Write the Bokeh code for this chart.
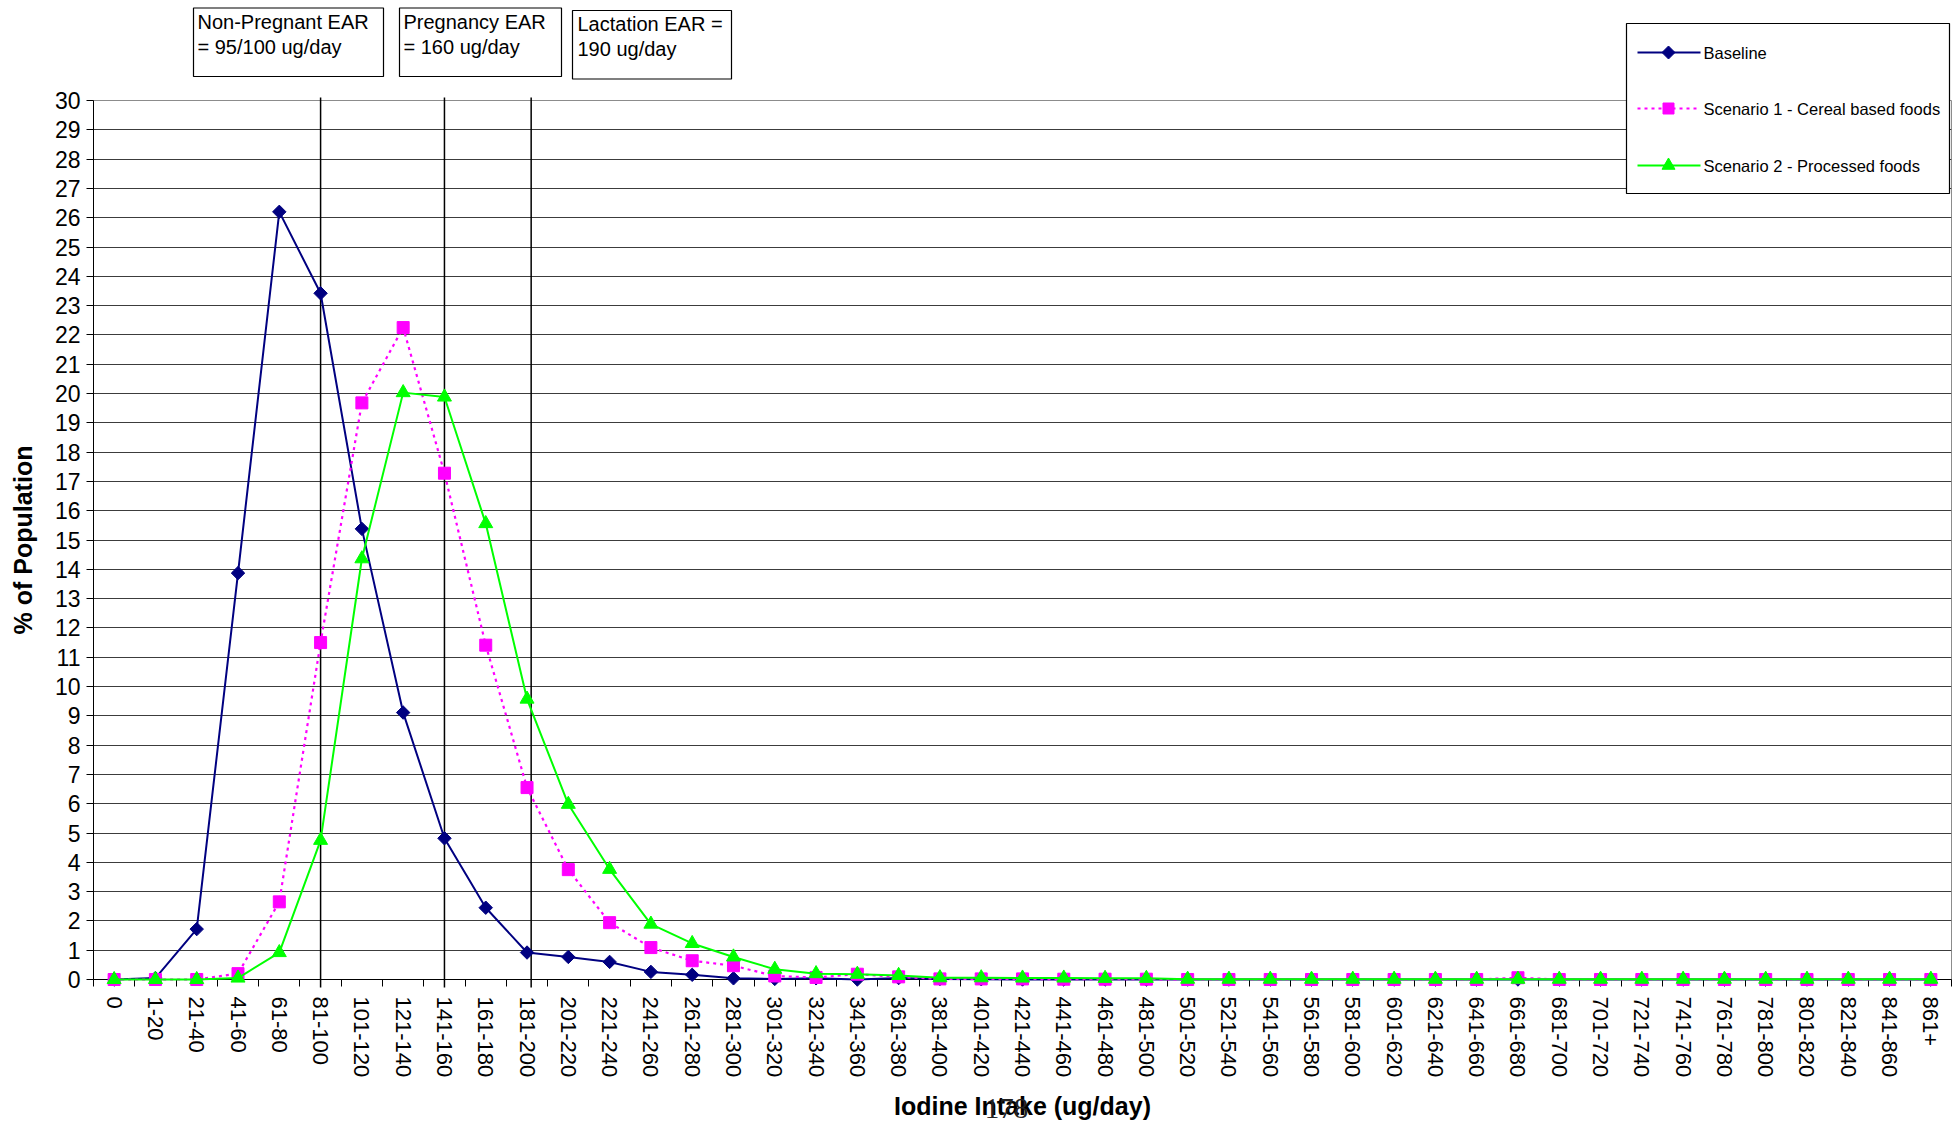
import math
from bokeh.plotting import figure
from bokeh.models import Range1d, FixedTicker
from bokeh.core.properties import value
from bokeh.embed import file_html
from bokeh.resources import INLINE

# ---------------- data ----------------
categories = ["0", "1-20", "21-40", "41-60", "61-80", "81-100", "101-120", "121-140",
              "141-160", "161-180", "181-200", "201-220", "221-240", "241-260", "261-280",
              "281-300", "301-320", "321-340", "341-360", "361-380", "381-400", "401-420",
              "421-440", "441-460", "461-480", "481-500", "501-520", "521-540", "541-560",
              "561-580", "581-600", "601-620", "621-640", "641-660", "661-680", "681-700",
              "701-720", "721-740", "741-760", "761-780", "781-800", "801-820", "821-840",
              "841-860", "861+"]

baseline = [0.0, 0.05, 1.72, 13.87, 26.2, 23.42, 15.38, 9.11, 4.82, 2.45, 0.92, 0.77, 0.60,
            0.26, 0.16, 0.04, 0.02, 0.04, 0.0, 0.05, 0.02, 0.01, 0.0, 0.0, 0.0, 0.0, 0.0,
            0.0, 0.0, 0.0, 0.0, 0.0, 0.0, 0.0, 0.0, 0.0, 0.0, 0.0, 0.0, 0.0, 0.0, 0.0, 0.0,
            0.0, 0.0]

scenario1 = [0.0, 0.0, 0.0, 0.2, 2.65, 11.5, 19.68, 22.25, 17.28, 11.41, 6.55, 3.75, 1.94,
             1.09, 0.64, 0.47, 0.12, 0.07, 0.18, 0.09, 0.02, 0.02, 0.02, 0.01, 0.01, 0.01,
             0.0, 0.0, 0.0, 0.0, 0.0, 0.0, 0.0, 0.0, 0.06, 0.0, 0.0, 0.0, 0.0, 0.0, 0.0, 0.0,
             0.0, 0.0, 0.0]

scenario2 = [0.0, 0.0, 0.0, 0.05, 0.92, 4.75, 14.36, 20.03, 19.88, 15.56, 9.57, 5.98, 3.76,
             1.89, 1.23, 0.77, 0.35, 0.2, 0.18, 0.14, 0.06, 0.06, 0.05, 0.05, 0.04, 0.04,
             0.01, 0.01, 0.01, 0.01, 0.01, 0.01, 0.01, 0.01, 0.01, 0.01, 0.01, 0.01, 0.01,
             0.01, 0.01, 0.01, 0.01, 0.01, 0.01]

series_names = ["Baseline", "Scenario 1 - Cereal based foods", "Scenario 2 - Processed foods"]

y_ticks = list(range(0, 31))

ear_positions = [5, 8, 10.1]
ear_texts = [["Non-Pregnant EAR", "= 95/100 ug/day"],
             ["Pregnancy EAR", "= 160 ug/day"],
             ["Lactation EAR =", "190 ug/day"]]
page_number = "178"

# ---------------- layout (pixels) ----------------
W, H = 1955, 1123
FL, FT, FR, FB = 93, 100, 1951, 979
NCAT = len(categories)
FONT = "Liberation Sans"


def xd(px):
    return -0.5 + (px - FL) / (FR - FL) * NCAT


def yd(py):
    return (FB - py) / (FB - FT) * 30.0


p = figure(width=W, height=H, x_range=Range1d(-0.5, NCAT - 0.5), y_range=Range1d(0, 30),
           output_backend="svg", toolbar_location=None,
           min_border_left=FL, min_border_right=W - FR, min_border_top=FT,
           min_border_bottom=H - FB)
p.background_fill_color = "white"
p.border_fill_color = "white"
p.outline_line_color = "#8c8c8c"
p.outline_line_width = 1

# grid
p.xgrid.visible = False
p.ygrid.ticker = FixedTicker(ticks=y_ticks)
p.ygrid.grid_line_color = "#3c3c3c"
p.ygrid.grid_line_width = 1

# y axis
p.yaxis.ticker = FixedTicker(ticks=y_ticks, minor_ticks=[])
p.yaxis.axis_line_color = "black"
p.yaxis.major_tick_line_color = "black"
p.yaxis.major_tick_out = 7
p.yaxis.major_tick_in = 0
p.yaxis.minor_tick_out = 0
p.yaxis.minor_tick_in = 0
p.yaxis.major_label_text_font = FONT
p.yaxis.major_label_text_font_size = "23px"
p.yaxis.major_label_text_color = "black"
p.yaxis.major_label_standoff = 6
p.yaxis.axis_label = "% of Population"
p.yaxis.axis_label_text_font = FONT
p.yaxis.axis_label_text_font_style = "bold"
p.yaxis.axis_label_text_font_size = "25px"
p.yaxis.axis_label_text_color = "black"
p.yaxis.axis_label_standoff = 15

# x axis
xs = list(range(NCAT))
p.xaxis.ticker = FixedTicker(ticks=xs, minor_ticks=[i - 0.5 for i in range(NCAT + 1)])
p.xaxis.major_label_overrides = {i: c for i, c in enumerate(categories)}
p.xaxis.major_label_orientation = "vertical"
p.xaxis.axis_line_color = "black"
p.xaxis.major_tick_out = 7
p.xaxis.major_tick_in = 0
p.xaxis.major_tick_line_color = None
p.xaxis.minor_tick_out = 7
p.xaxis.minor_tick_in = 0
p.xaxis.minor_tick_line_color = "black"
p.xaxis.major_label_text_font = FONT
p.xaxis.major_label_text_font_size = "22px"
p.xaxis.major_label_text_color = "black"
p.xaxis.major_label_standoff = 10
p.xaxis.axis_label = "Iodine Intake (ug/day)"
p.xaxis.axis_label_text_font = FONT
p.xaxis.axis_label_text_font_style = "bold"
p.xaxis.axis_label_text_font_size = "25px"
p.xaxis.axis_label_text_color = "black"
p.xaxis.axis_label_standoff = 12

# EAR reference lines
p.segment(x0=ear_positions, y0=[yd(987)] * 3, x1=ear_positions, y1=[yd(97)] * 3,
          line_color="black", line_width=1.5, level="overlay")

# series styles
NAVY, MAGENTA, GREEN = "#000080", "#FF00FF", "#00FF00"
styles = [
    dict(color=NAVY, dash="solid", width=2, marker="square", size=9.5, angle=math.pi / 4),
    dict(color=MAGENTA, dash="3 4", width=2.2, marker="square", size=12, angle=0.0),
    dict(color=GREEN, dash="solid", width=2, marker="triangle", size=14, angle=0.0),
]

for vals, st in zip([baseline, scenario1, scenario2], styles):
    p.line(xs, vals, line_color=st["color"], line_width=st["width"], line_dash=st["dash"],
           level="overlay")
    p.scatter(xs, vals, marker=st["marker"], size=st["size"], angle=st["angle"],
              fill_color=st["color"], line_color=st["color"], level="overlay")

# EAR text boxes above the plot
boxes_px = [(193, 383, 7.5, 76), (399, 561, 7.5, 76), (572, 731, 10, 78.5)]
p.quad(left=[xd(b[0]) for b in boxes_px], right=[xd(b[1]) for b in boxes_px],
       top=[yd(b[2]) for b in boxes_px], bottom=[yd(b[3]) for b in boxes_px],
       fill_color="white", line_color="black", line_width=1.2, level="overlay")
text_px = [((197, 21), (197, 46)), ((403, 21), (403, 46)), ((577, 23.5), (577, 48.5))]
tx, ty, tt = [], [], []
for lines, pos in zip(ear_texts, text_px):
    for s, (px, py) in zip(lines, pos):
        tx.append(xd(px))
        ty.append(yd(py))
        tt.append(s)
p.text(x=tx, y=ty, text=tt, text_font=value(FONT), text_font_size="20px",
       text_align="left", text_baseline="alphabetic", text_color="black", level="overlay")

# page number overlapping the axis title
p.text(x=[xd(1006)], y=[yd(1108)], text=[page_number], text_font=value("Liberation Serif"),
       text_font_size="29px", text_align="center", text_baseline="alphabetic",
       text_color="#222222", level="overlay")

# legend (drawn by hand so it can reach above the plot frame)
LG_L, LG_R, LG_T, LG_B = 1626, 1949, 23, 193
item_y = [52, 108, 165]
LX0, LX1, LXM = 1637, 1700, 1668
p.quad(left=[xd(LG_L)], right=[xd(LG_R)], top=[yd(LG_T)], bottom=[yd(LG_B)],
       fill_color="white", line_color="black", line_width=1.2, level="overlay")
for k, (iy, st) in enumerate(zip(item_y, styles)):
    p.segment(x0=[xd(LX0)], y0=[yd(iy)], x1=[xd(LX1)], y1=[yd(iy)],
              line_color=st["color"], line_width=st["width"], line_dash=st["dash"],
              level="overlay")
    if k == 0:
        r = 6.5
        p.patch(x=[xd(LXM - r), xd(LXM), xd(LXM + r), xd(LXM)],
                y=[yd(iy), yd(iy - r), yd(iy), yd(iy + r)],
                fill_color=st["color"], line_color=st["color"], level="overlay")
    else:
        p.scatter([xd(LXM)], [yd(iy)], marker=st["marker"], size=st["size"] - 1,
                  fill_color=st["color"], line_color=st["color"], level="overlay")
p.text(x=[xd(1703)] * 3, y=[yd(iy) for iy in item_y], text=series_names,
       text_font=value(FONT), text_font_size="16.5px", text_align="left",
       text_baseline="alphabetic", text_color="black", level="overlay")

open("out.html", "w").write(file_html(p, INLINE))
